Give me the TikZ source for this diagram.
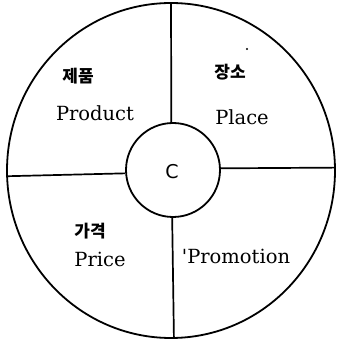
\documentclass[tikz,border=0pt]{standalone}
\usepackage{fontspec}
\setmainfont{DejaVu Serif}
\newfontfamily\kr{Noto Sans CJK KR}
\newfontfamily\dvs{DejaVu Sans}
\usetikzlibrary{shapes.geometric}
\begin{document}
\begin{tikzpicture}[x=1pt,y=1pt,
  ring/.style={draw,line width=1.8pt,inner sep=0pt},
  divider/.style={line width=1.7pt},
  en/.style={font=\fontsize{19.5}{19.5}\selectfont},
  ko/.style={font=\kr\bfseries\fontsize{17}{17}\selectfont}]
\useasboundingbox (0,0) rectangle (337,343);
\node[ring,ellipse,minimum width=328pt,minimum height=335pt] (o) at (171,172.5) {};
\node[ring,circle,minimum size=94pt] (c) at (173,173) {};
\node[font=\dvs\fontsize{19}{19}\selectfont] (ct) at (172,171) {C};
\draw[divider] (c.92) -- (o.90);
\draw[divider] (c.2) -- (o.1);
\draw[divider] (c.269) -- (o.271);
\draw[divider] (c.184) -- (o.182);
\node[ko] (k1) at (78,267) {제품};
\node[en] (t1) at (95,230) {Product};
\node[ko] (k2) at (230,271) {장소};
\node[en] (t2) at (242,226) {Place};
\node[ko] (k3) at (90,112) {가격};
\node[en] (t3) at (100,84) {Price};
\node[en] (t4) at (236,87) {\textquotesingle Promotion};
\fill (247,294) circle (1.2pt);
\end{tikzpicture}
\end{document}
